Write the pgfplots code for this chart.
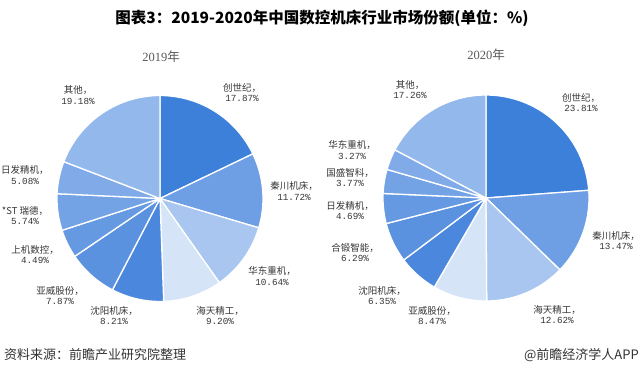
\documentclass[border=0pt]{standalone}
\usepackage{pgfplots}
\pgfplotsset{compat=1.18}
\usepackage{pgfplotstable}
\usepackage{fontspec}
\setmainfont{Liberation Serif}
\newfontfamily\cjk{Noto Sans CJK SC}
\newfontfamily\mono{Liberation Mono}

\definecolor{c0}{HTML}{3C80DA}
\definecolor{c1}{HTML}{6E9EE4}
\definecolor{c2}{HTML}{A8C6F0}
\definecolor{c3}{HTML}{D6E4F8}
\definecolor{c4}{HTML}{4A87DD}
\definecolor{c5}{HTML}{5A92E0}
\definecolor{c6}{HTML}{659AE2}
\definecolor{c7}{HTML}{73A3E5}
\definecolor{c8}{HTML}{80ABE8}
\definecolor{c9}{HTML}{92B8EC}
\definecolor{labgray}{HTML}{363636}

% 2019 shares, clockwise from 12 o'clock
\pgfplotstableread{
value
17.87
11.72
10.64
9.20
8.21
7.87
4.49
5.74
5.08
19.18
}\dataA
% 2020 shares
\pgfplotstableread{
value
23.81
13.47
12.62
8.47
6.35
6.29
4.69
3.77
3.27
17.26
}\dataB

\newcommand\pie[3]{%
  \pgfplotstablegetrowsof{#1}\pgfmathtruncatemacro\N{\pgfplotsretval-1}%
  \def\cum{0}%
  \pgfplotsforeachungrouped \i in {0,...,\N}{%
    \pgfplotstablegetelem{\i}{value}\of{#1}\let\v\pgfplotsretval
    \pgfmathsetmacro\a{90-3.6*\cum}%
    \pgfmathsetmacro\b{90-3.6*(\cum+\v)}%
    \pgfmathsetmacro\cum{\cum+\v}%
    \edef\tmp{\noexpand\addplot[fill=c\i, draw=white, line width=1.3pt, line join=round, domain=\b:\a, samples=60, variable=\noexpand\t] ({#2+103*cos(\noexpand\t)},{#3+103*sin(\noexpand\t)}) -- (axis cs:#2,#3) -- cycle;}%
    \tmp
  }%
}

\newcommand\lab[4]{%
  \node[align=center, text=labgray, inner sep=0pt] at (axis cs:#1,{376-#2})
  {{\cjk\fontsize{9.5}{14}\selectfont #3，}\\[-1.5pt]{\mono\fontsize{9.3}{14}\selectfont #4\%}};}

\begin{document}
\begin{tikzpicture}
\begin{axis}[
  width=642pt, height=376pt, scale only axis,
  xmin=0, xmax=642, ymin=0, ymax=376,
  hide axis, clip=false]
\fill[white] (axis cs:0,0) rectangle (axis cs:642,376);
\pie{\dataA}{160}{177.5}
\pie{\dataB}{486}{178}

% titles
\node[inner sep=0pt] at (axis cs:322,358) {\cjk\bfseries\fontsize{15.5}{17}\selectfont 图表3：2019-2020年中国数控机床行业市场份额(单位：\%)};
\node[inner sep=0pt, text=black!65] at (axis cs:161,319) {\fontsize{12.5}{14}\selectfont 2019{\cjk 年}};
\node[inner sep=0pt, text=black!65] at (axis cs:486,321) {\fontsize{12.5}{14}\selectfont 2020{\cjk 年}};

% 2019 labels
\lab{242}{92.5}{创世纪}{17.87}
\lab{294}{191}{秦川机床}{11.72}
\lab{272}{276}{华东重机}{10.64}
\lab{220}{315.5}{海天精工}{9.20}
\lab{114}{315.5}{沈阳机床}{8.21}
\lab{60}{295.5}{亚威股份}{7.87}
\lab{35}{254.5}{上机数控}{4.49}
\lab{25}{215.5}{*ST 瑞德}{5.74}
\lab{25}{175}{日发精机}{5.08}
\lab{78}{95}{其他}{19.18}

% 2020 labels
\lab{581}{102.5}{创世纪}{23.81}
\lab{616}{240.5}{秦川机床}{13.47}
\lab{557}{314.5}{海天精工}{12.62}
\lab{432}{315.5}{亚威股份}{8.47}
\lab{382}{295.5}{沈阳机床}{6.35}
\lab{355}{252.5}{合锻智能}{6.29}
\lab{350}{210.5}{日发精机}{4.69}
\lab{350}{177.5}{国盛智科}{3.77}
\lab{352}{150}{华东重机}{3.27}
\lab{410}{89.5}{其他}{17.26}

% footer
\node[anchor=west, inner sep=0pt, text=black!80] at (axis cs:4,21) {\cjk\fontsize{13}{15}\selectfont 资料来源：前瞻产业研究院整理};
\node[anchor=east, inner sep=0pt, text=black!80] at (axis cs:639,21) {\cjk\fontsize{13}{15}\selectfont @前瞻经济学人APP};
\end{axis}
\end{tikzpicture}
\end{document}
